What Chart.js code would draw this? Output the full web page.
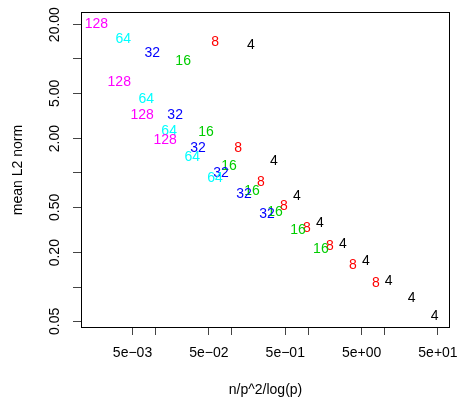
<!DOCTYPE html>
<html>
<head>
<meta charset="utf-8">
<script src="https://cdn.jsdelivr.net/npm/chart.js@4.4.1/dist/chart.umd.min.js"></script>
<style>
  html, body { margin: 0; padding: 0; background: #fff; }
  #wrap { width: 461px; height: 404px; }
</style>
</head>
<body>
<div id="wrap"><canvas id="chart" width="461" height="404"></canvas></div>
<script>
// p values, used as the plotting symbols
var groups = ['4', '8', '16', '32', '64', '128'];

// x = n/p^2/log(p), y = mean L2 norm (one pair per p)
var x4 = [0.178, 0.356, 0.711, 1.42, 2.84, 5.68, 11.3, 22.6, 45.3];
var y4 = [13.2, 1.27, 0.625, 0.363, 0.237, 0.168, 0.1125, 0.0798, 0.0555];

var x8 = [0.0603, 0.1204, 0.2406, 0.481, 0.961, 1.92, 3.84, 7.67];
var y8 = [14.0, 1.65, 0.83, 0.511, 0.328, 0.226, 0.155, 0.108];

var x16 = [0.0230, 0.0460, 0.0918, 0.1835, 0.3667, 0.733, 1.465];
var y16 = [9.54, 2.28, 1.15, 0.692, 0.453, 0.318, 0.215];

var x32 = [0.00905, 0.01808, 0.0361, 0.0722, 0.1442, 0.2883];
var y32 = [11.2, 3.21, 1.65, 0.995, 0.651, 0.439];

var x64 = [0.00378, 0.00755, 0.01509, 0.0302, 0.0603];
var y64 = [14.9, 4.43, 2.32, 1.37, 0.908];

var x128 = [0.00168, 0.00335, 0.0067, 0.01338];
var y128 = [20.1, 6.24, 3.21, 1.94];

var xTicks = [5e-3, 1e-2, 5e-2, 1e-1, 5e-1, 1, 5, 10, 50];
var xTickLabels = ['5e\u221203', '', '5e\u221202', '', '5e\u221201', '', '5e+00', '', '5e+01'];
var yTicks = [0.05, 0.1, 0.2, 0.5, 1, 2, 5, 10, 20];
var yTickLabels = ['0.05', '', '0.20', '0.50', '', '2.00', '5.00', '', '20.00'];

var xs = [x4, x8, x16, x32, x64, x128];
var ys = [y4, y8, y16, y32, y64, y128];
var colors = ['#000000', '#FF0000', '#00CD00', '#0000FF', '#00FFFF', '#FF00FF'];

var FONT = '"Liberation Sans", Arial, Helvetica, sans-serif';
Chart.defaults.font.family = FONT;
Chart.defaults.font.size = 14;
Chart.defaults.color = '#000';

var datasets = groups.map(function (g, i) {
    return {
        label: g,
        data: xs[i].map(function (x, j) { return { x: x, y: ys[i][j] }; }),
        pointRadius: 0,
        pointHoverRadius: 0,
        showLine: false,
        borderColor: colors[i],
        backgroundColor: colors[i]
    };
});

// draws the p labels at each point, the box and the vertical y tick labels
var textPoints = {
    id: 'textPoints',
    afterDatasetsDraw: function (chart) {
        var ctx = chart.ctx;
        var ca = chart.chartArea;
        ctx.save();

        ctx.font = '14px ' + FONT;
        ctx.textAlign = 'center';
        ctx.textBaseline = 'middle';
        chart.data.datasets.forEach(function (ds, i) {
            var meta = chart.getDatasetMeta(i);
            ctx.fillStyle = colors[i];
            meta.data.forEach(function (pt) {
                ctx.fillText(groups[i], pt.x, pt.y);
            });
        });

        // box
        ctx.strokeStyle = '#000';
        ctx.lineWidth = 1;
        ctx.strokeRect(Math.round(ca.left) - 0.5, Math.round(ca.top) - 0.5,
            Math.round(ca.right - ca.left) + 1, Math.round(ca.bottom - ca.top) + 1);

        // y tick labels, rotated like R's las=0
        var yScale = chart.scales.y;
        ctx.fillStyle = '#000';
        yTicks.forEach(function (v, i) {
            if (!yTickLabels[i]) return;
            var py = yScale.getPixelForValue(v);
            ctx.save();
            ctx.translate(55, py);
            ctx.rotate(-Math.PI / 2);
            ctx.fillText(yTickLabels[i], 0, 0);
            ctx.restore();
        });

        ctx.restore();
    }
};

var myChart = new Chart(document.getElementById('chart'), {
    type: 'scatter',
    data: { datasets: datasets },
    options: {
        responsive: false,
        animation: false,
        events: [],
        layout: { padding: { left: 0, right: 12, top: 13, bottom: 0 } },
        plugins: {
            legend: { display: false },
            tooltip: { enabled: false }
        },
        scales: {
            x: {
                type: 'logarithmic',
                min: 1.09e-3,
                max: 69.7,
                afterBuildTicks: function (scale) {
                    scale.ticks = xTicks.map(function (v) { return { value: v }; });
                },
                afterFit: function (scale) {
                    scale.height = 77;
                    scale.paddingLeft = 0;
                    scale.paddingRight = 0;
                },
                grid: { drawOnChartArea: false, tickLength: 8, tickColor: '#444', tickWidth: 1 },
                border: { display: false },
                ticks: {
                    autoSkip: false,
                    maxRotation: 0,
                    minRotation: 0,
                    padding: 10,
                    color: '#000',
                    callback: function (v, i) { return xTickLabels[i]; }
                },
                title: {
                    display: true,
                    text: 'n/p^2/log(p)',
                    color: '#000',
                    padding: { top: 0, bottom: 5 }
                }
            },
            y: {
                type: 'logarithmic',
                min: 0.0446,
                max: 25.3,
                afterBuildTicks: function (scale) {
                    scale.ticks = yTicks.map(function (v) { return { value: v }; });
                },
                afterFit: function (scale) {
                    scale.width = 82;
                    scale.paddingTop = 0;
                    scale.paddingBottom = 0;
                },
                grid: { drawOnChartArea: false, tickLength: 9, tickColor: '#444', tickWidth: 1 },
                border: { display: false },
                ticks: {
                    autoSkip: false,
                    callback: function () { return ''; }
                },
                title: {
                    display: true,
                    text: 'mean L2 norm',
                    color: '#000',
                    padding: { top: 9.6, bottom: 0 }
                }
            }
        }
    },
    plugins: [textPoints]
});
</script>
</body>
</html>
